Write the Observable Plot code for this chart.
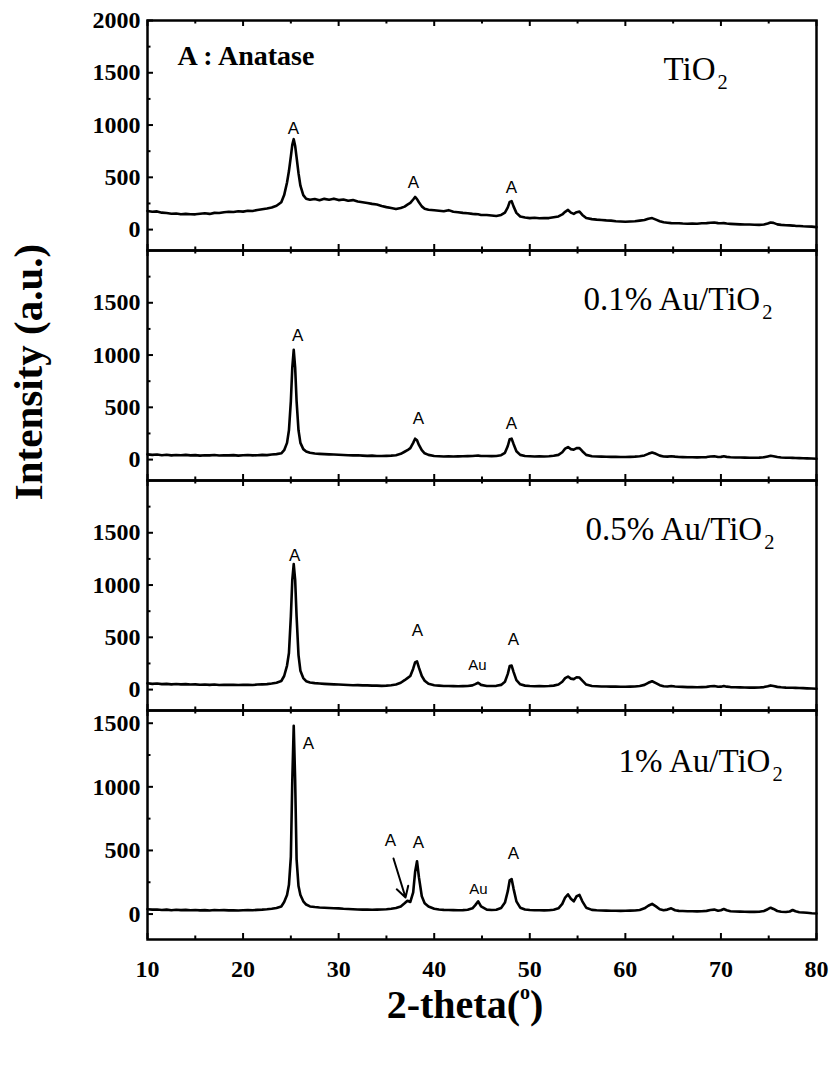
<!DOCTYPE html>
<html>
<head>
<meta charset="utf-8">
<script src="https://cdn.jsdelivr.net/npm/d3@7"></script>
<script src="https://cdn.jsdelivr.net/npm/@observablehq/plot@0.6"></script>
<style>
  body { margin: 0; background: #fff; }
  #chart { position: relative; width: 832px; height: 1065px; background: #fff; }
  #chart svg { position: absolute; left: 0; }
  .ytitle { position: absolute; left: 28px; top: 372px; transform: translate(-50%, -50%) rotate(-90deg);
            font: bold 41px "Liberation Serif", serif; white-space: nowrap; color: #000; }
  .xtitle { position: absolute; left: 465px; top: 1004px; transform: translate(-50%, -50%);
            font: bold 40px "Liberation Serif", serif; white-space: nowrap; color: #000; }
  .xtitle .sup { font-size: 0.5em; position: relative; top: -0.95em; }
</style>
</head>
<body>
<div id="chart">
  <div class="ytitle">Intensity (a.u.)</div>
  <div class="xtitle">2-theta(<span class="sup">o</span>)</div>
</div>
<script>
// ---- data ----
const twoTheta = [
  10,10.5,11,11.5,12,12.5,13,13.5,14,14.5,15,15.5,16,16.5,17,17.5,18,18.5,19,19.5,20,20.5,21,21.5,22,22.5,23,23.5,24,
  24.3,24.6,24.8,25.0,25.15,25.3,25.45,25.6,25.8,26.0,26.3,26.6,
  27,27.5,28,28.5,29,29.5,30,30.5,31,31.5,32,32.5,33,33.5,34,34.5,35,35.5,36,36.5,
  36.9,37.2,37.5,37.8,38.0,38.2,38.4,38.7,39.0,39.4,
  40,40.5,41,41.5,42,42.5,43,43.5,44,
  44.3,44.6,44.9,
  45.5,46,46.5,47,47.4,
  47.7,47.9,48.1,48.3,48.6,49.0,
  49.5,50,50.5,51,51.5,52,52.5,53,
  53.4,53.7,54.0,54.3,54.6,54.9,55.2,55.5,55.9,
  56.5,57,57.5,58,58.5,59,59.5,60,60.5,61,61.5,62,
  62.4,62.8,63.2,63.6,
  64.0,64.4,64.8,65.2,65.6,66.0,66.5,67.0,67.5,68.0,68.5,
  68.9,69.3,69.7,70.0,70.3,70.6,71.0,71.5,72.0,72.5,73.0,73.5,74.0,74.5,
  74.9,75.2,75.5,75.9,76.3,76.8,77.2,77.5,77.8,78.2,78.6,79.0,79.5,80
];

const intensityTiO2 = [
  178,170,174,162,158,152,154,146,150,147,146,152,156,150,160,158,166,170,168,176,172,180,178,188,195,202,212,228,262,
  330,450,560,700,810,865,800,690,540,420,330,295,
  285,292,280,294,286,296,282,288,276,282,268,262,255,246,240,226,215,206,196,206,
  220,238,255,288,312,292,262,222,200,190,
  185,180,176,186,170,166,160,156,150,
  148,146,140,
  140,135,130,140,162,
  212,265,272,222,160,125,
  115,110,113,108,110,110,118,126,
  145,170,188,162,150,166,172,140,110,
  100,95,92,88,86,80,78,75,78,80,86,92,
  104,110,95,80,
  70,66,62,60,61,58,56,58,56,60,62,
  66,68,62,60,62,58,55,52,50,48,48,46,45,48,
  58,68,64,50,45,42,40,38,36,35,32,30,28,24
];

const intensityAu01 = [
  50,45,48,42,46,40,44,42,45,40,43,38,42,40,44,39,42,40,43,38,41,44,40,42,45,43,48,52,60,
  90,160,280,560,880,1050,880,560,280,160,100,78,
  65,58,55,52,50,48,46,44,42,40,41,38,36,38,35,34,36,38,42,55,
  75,90,110,160,200,185,140,90,60,45,
  35,32,30,32,30,31,32,33,34,
  36,38,35,
  34,33,35,42,65,
  130,195,200,150,80,45,
  35,32,30,31,30,32,36,45,
  70,105,120,100,95,110,110,80,45,
  32,30,28,27,26,26,25,25,26,28,32,40,
  55,68,55,38,
  30,28,32,28,25,24,22,22,21,22,24,
  30,32,25,26,32,26,22,20,20,19,18,18,19,22,
  30,36,32,24,20,18,17,16,15,14,13,12,10,8
];

const intensityAu05 = [
  60,55,58,52,55,50,54,50,52,48,50,46,49,45,48,44,47,45,46,44,45,47,44,48,50,52,58,66,82,
  130,230,350,700,1050,1200,1050,700,330,180,110,80,
  68,62,58,55,52,50,48,46,44,42,43,40,40,38,38,36,38,42,48,65,
  90,110,130,200,260,270,210,130,85,55,
  42,38,35,34,33,32,33,35,40,
  52,65,45,
  35,34,36,45,75,
  150,225,230,170,90,50,
  38,34,32,33,32,34,38,48,
  75,110,125,105,100,118,115,85,48,
  34,32,30,29,28,28,27,27,28,30,35,45,
  65,80,62,42,
  32,30,34,30,27,26,24,24,23,24,26,
  32,34,27,28,34,28,24,22,21,20,19,19,20,24,
  32,40,35,26,22,19,18,17,16,15,14,12,10,8
];

const intensityAu1 = [
  38,35,36,32,35,30,34,31,33,30,32,29,31,28,32,30,31,29,30,28,30,32,30,33,35,38,42,48,60,
  95,150,230,450,1050,1480,1050,430,220,150,100,75,
  60,55,52,50,48,46,45,42,40,38,36,35,36,34,35,36,38,42,48,60,
  85,105,95,170,330,415,290,140,85,60,
  42,36,33,32,31,30,31,34,45,
  70,100,60,
  35,32,34,48,90,
  180,265,275,200,100,50,
  36,32,30,30,29,30,34,45,
  80,130,155,120,100,140,150,100,50,
  33,30,28,27,26,26,25,26,27,28,32,45,
  65,80,60,38,
  30,35,45,30,25,24,22,22,21,22,25,
  32,35,26,30,40,30,22,20,19,18,17,17,18,24,
  38,50,40,24,18,16,20,32,22,14,12,10,6,4
];

const sampleNames = ["TiO2", "0.1% Au/TiO2", "0.5% Au/TiO2", "1% Au/TiO2"];
const legendNote = "A : Anatase";

const xTicks = [10, 20, 30, 40, 50, 60, 70, 80];
const xMinorTicks = [15, 25, 35, 45, 55, 65, 75];
const yTicksTop = [0, 500, 1000, 1500, 2000];
const yTicks = [0, 500, 1000, 1500];
const yMinorTicks = [250, 750, 1250, 1750];
const yMinorTicksLast = [250, 750, 1250];

// peak annotations: 2-theta, intensity where the label sits, label
const peaksTiO2 = [{t: 25.28, v: 967, label: "A"}, {t: 37.83, v: 450, label: "A"}, {t: 48.09, v: 403, label: "A"}];
const peaksAu01 = [{t: 25.7, v: 1187, label: "A"}, {t: 38.36, v: 393, label: "A"}, {t: 48.09, v: 345, label: "A"}];
const peaksAu05 = [{t: 25.4, v: 1283, label: "A"}, {t: 38.25, v: 565, label: "A"}, {t: 44.53, v: 230, label: "Au"}, {t: 48.3, v: 479, label: "A"}];
const peaksAu1 = [{t: 26.85, v: 1341, label: "A"}, {t: 35.43, v: 578, label: "A"}, {t: 38.36, v: 563, label: "A"}, {t: 44.63, v: 194, label: "Au"}, {t: 48.3, v: 476, label: "A"}];
const arrowAu1 = [{t1: 35.74, v1: 437, t2: 37.0, v2: 130}];

// ---- layout ----
const W = 832, ML = 147, MR = 16;
const plotW = W - ML - MR;
const panels = [
  {name: sampleNames[0], values: intensityTiO2, peaks: peaksTiO2, top: 20,  h: 230, domain: [-200, 2000], yt: yTicksTop, ym: yMinorTicks, lx: 63.99, ly: 1531},
  {name: sampleNames[1], values: intensityAu01, peaks: peaksAu01, top: 250, h: 230, domain: [-200, 2000], yt: yTicks, ym: yMinorTicks, lx: 55.62, ly: 1531},
  {name: sampleNames[2], values: intensityAu05, peaks: peaksAu05, top: 480, h: 230, domain: [-200, 2000], yt: yTicks, ym: yMinorTicks, lx: 55.83, ly: 1531},
  {name: sampleNames[3], values: intensityAu1,  peaks: peaksAu1,  top: 710, h: 229, domain: [-200, 1600], yt: yTicks, ym: yMinorTicksLast, lx: 59.28, ly: 1200}
];

const chart = document.getElementById("chart");

panels.forEach((p, i) => {
  const rows = twoTheta.map((t, k) => ({t, v: p.values[k]}));
  const H = p.h;
  const marks = [
    Plot.line(rows, {x: "t", y: "v", stroke: "#000", strokeWidth: 2.6, strokeLinejoin: "round"}),
    Plot.frame({stroke: "#000", strokeWidth: 2.5}),
    Plot.tickX(xTicks, {x: d => d, insetTop: H - 6, stroke: "#000", strokeWidth: 2}),
    Plot.tickX(xTicks, {x: d => d, insetBottom: H - 6, stroke: "#000", strokeWidth: 2}),
    Plot.tickX(xMinorTicks, {x: d => d, insetTop: H - 3.5, stroke: "#000", strokeWidth: 2}),
    Plot.tickX(xMinorTicks, {x: d => d, insetBottom: H - 3.5, stroke: "#000", strokeWidth: 2}),
    Plot.tickY(p.yt, {y: d => d, insetRight: plotW - 6, stroke: "#000", strokeWidth: 2}),
    Plot.tickY(p.ym, {y: d => d, insetRight: plotW - 3.5, stroke: "#000", strokeWidth: 2}),
    Plot.axisY(p.yt, {tickSize: 0, tickPadding: 7, tickFormat: d => String(d), fontSize: 24, fontWeight: "bold", label: null}),
    Plot.text(p.peaks, {x: "t", y: "v", text: "label", fontFamily: "Liberation Sans", fontSize: d => d.label === "Au" ? 15 : 17, fill: "#000"}),
    Plot.text([p.name], {x: p.lx, y: p.ly, text: d => d, textAnchor: "start", fontSize: 33, fontFamily: "Liberation Serif", fill: "#000"})
  ];
  if (i === 0) {
    marks.push(Plot.text([legendNote], {x: 13.14, y: 1660, text: d => d, textAnchor: "start", fontSize: 28, fontWeight: "bold", fontFamily: "Liberation Serif", fill: "#000"}));
  }
  if (i === 3) {
    marks.push(Plot.arrow(arrowAu1, {x1: "t1", y1: "v1", x2: "t2", y2: "v2", stroke: "#000", strokeWidth: 2, headLength: 9}));
    marks.push(Plot.axisX(xTicks, {tickSize: 0, tickPadding: 20, tickFormat: d => String(d), fontSize: 24, fontWeight: "bold", label: null}));
  }
  const svg = Plot.plot({
    width: W, height: H,
    marginLeft: ML, marginRight: MR, marginTop: 0, marginBottom: 0,
    x: {domain: [10, 80], axis: i === 3 ? undefined : null},
    y: {domain: p.domain},
    style: {background: "transparent", overflow: "visible", fontFamily: "Liberation Serif", color: "#000"},
    marks
  });
  svg.style.top = p.top + "px";
  // subscript for the "2" of TiO2
  d3.select(svg).selectAll("text").each(function () {
    const s = this.textContent;
    if (/TiO2$/.test(s) && this.childElementCount === 0) {
      const sel = d3.select(this);
      sel.text(s.slice(0, -1));
      sel.append("tspan").attr("dx", 2).attr("dy", "0.42em").attr("font-size", "0.62em").text("2");
    }
  });
  chart.appendChild(svg);
});
</script>
</body>
</html>
